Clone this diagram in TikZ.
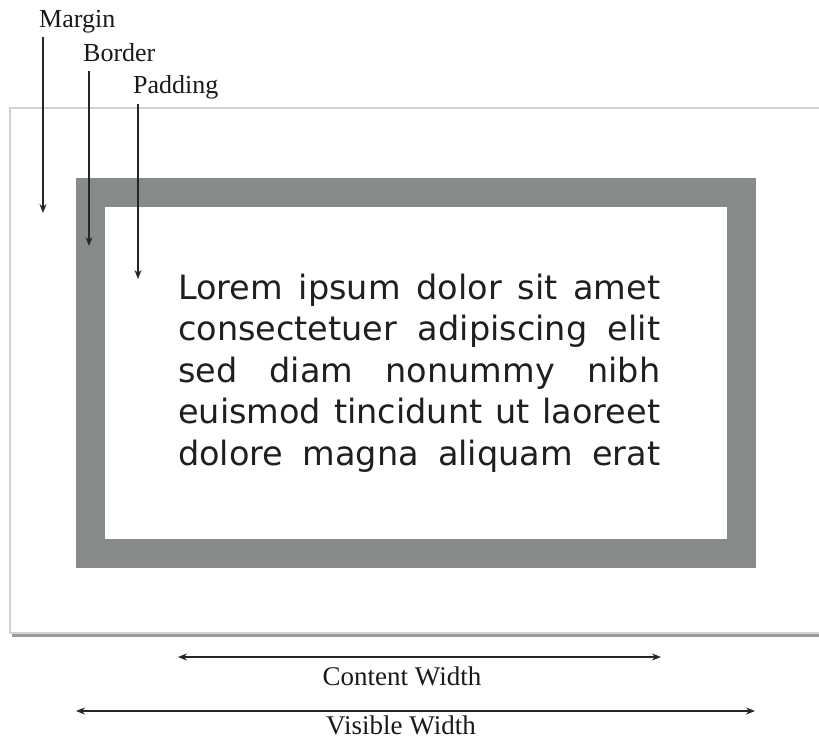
\documentclass[tikz,border=0pt]{standalone}
\usepackage{fontspec}
\setmainfont{Liberation Serif}
\newfontfamily\bodyfont{DejaVu Sans}
\usetikzlibrary{arrows.meta}
\definecolor{bordergray}{RGB}{135,140,138}
\definecolor{frameline}{RGB}{210,210,210}
\definecolor{shadowgray}{RGB}{155,155,155}
\tikzset{
  lbl/.style={anchor=base west, inner sep=0pt, font=\fontsize{26}{30}\selectfont, text=black!90},
  wlbl/.style={anchor=base, inner sep=0pt, font=\fontsize{27}{32}\selectfont, text=black!90},
  bodyline/.style={anchor=base west, inner sep=0pt, font=\bodyfont\fontsize{33.5}{40}\selectfont, text=black!88},
  pointer/.style={draw=black!85, line width=1.1pt, -{Stealth[length=9pt,width=7pt]}},
  dimarrow/.style={draw=black!85, line width=1.1pt, {Stealth[length=9pt,width=7pt]}-{Stealth[length=9pt,width=7pt]}}
}
\begin{document}
\begin{tikzpicture}[x=1pt,y=-1pt]
\useasboundingbox (0,0) rectangle (819,741);
\clip (0,0) rectangle (819,741);
% outer (margin) box
\draw[shadowgray, line width=3pt] (12,635) -- (830,635);
\draw[frameline, line width=1.2pt] (830,108) -- (10,108) -- (10,633) -- (830,633);
% border
\fill[bordergray] (76,178) rectangle (756,568);
\fill[white] (105,207) rectangle (727,539);
% body text
\node[bodyline] (l1) at (178,299) {\makebox[482pt][s]{Lorem ipsum dolor sit amet}};
\node[bodyline] (l2) at (178,340.5) {\makebox[482pt][s]{consectetuer adipiscing elit}};
\node[bodyline] (l3) at (178,382) {\makebox[482pt][s]{sed diam nonummy nibh}};
\node[bodyline] (l4) at (178,423.5) {\makebox[482pt][s]{euismod tincidunt ut laoreet}};
\node[bodyline] (l5) at (178,465) {\makebox[482pt][s]{dolore magna aliquam erat}};
% labels
\node[lbl] (margin) at (39,28) {Margin};
\node[lbl] (border) at (83,62) {Border};
\node[lbl] (padding) at (133,94) {Padding};
\coordinate (m1) at (43,37);  \coordinate (m2) at (43,213);
\coordinate (b1) at (89,71);  \coordinate (b2) at (89,246);
\coordinate (p1) at (138,104); \coordinate (p2) at (138,279);
\draw[pointer] (m1) -- (m2);
\draw[pointer] (b1) -- (b2);
\draw[pointer] (p1) -- (p2);
% width dimensions
\coordinate (c1) at (178,657); \coordinate (c2) at (661,657);
\coordinate (v1) at (76,711);  \coordinate (v2) at (755,711);
\draw[dimarrow] (c1) -- (c2);
\draw[dimarrow] (v1) -- (v2);
\node[wlbl] (cw) at (402,685) {Content Width};
\node[wlbl] (vw) at (401,734) {Visible Width};
\end{tikzpicture}
\end{document}
